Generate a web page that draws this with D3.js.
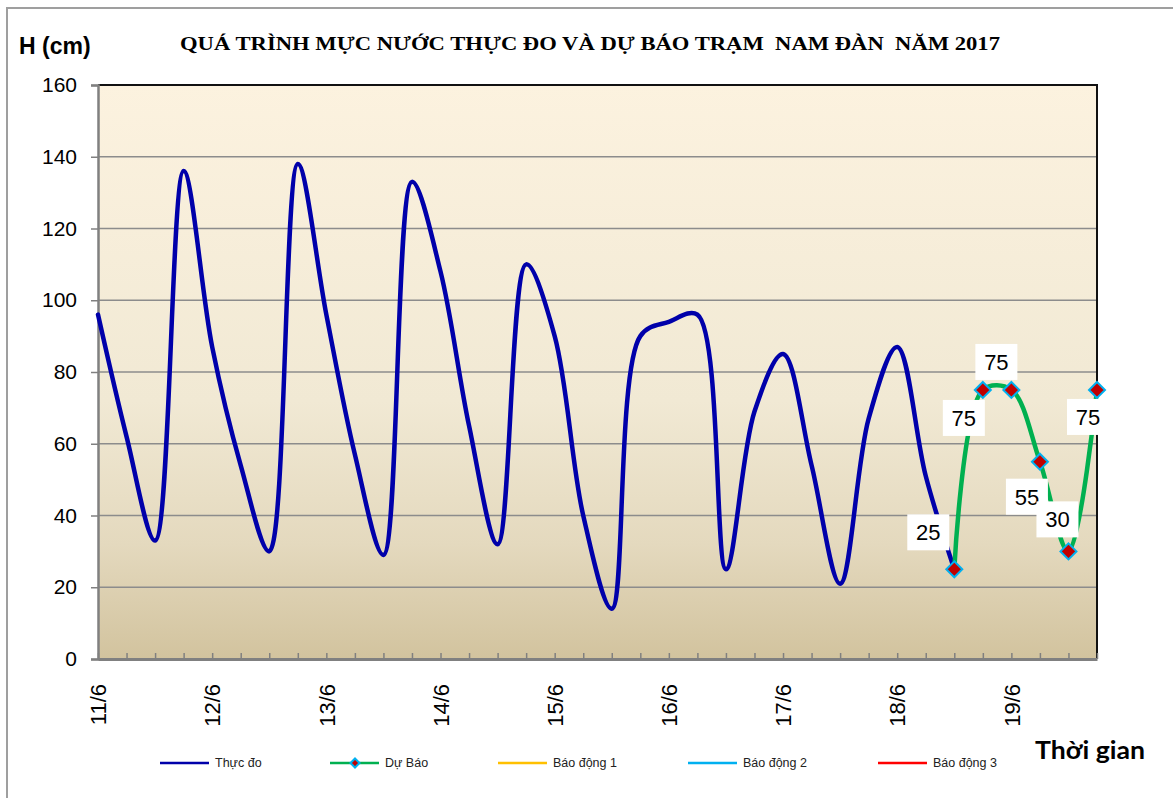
<!DOCTYPE html>
<html>
<head>
<meta charset="utf-8">
<script src="https://cdn.jsdelivr.net/npm/d3@7"></script>
<style>
  body { margin: 0; background: #fff; }
  svg { display: block; }
</style>
</head>
<body>
<div id="container"></div>
<script>
// day labels shown every 4 steps (6-hour steps)
var dayLabels = ["11/6", "12/6", "13/6", "14/6", "15/6", "16/6", "17/6", "18/6", "19/6"];
var stepsPerDay = 4;
var nSteps = 36;

// measured water level (cm), one value every 6 hours from 11/6
var observed = [96, 62, 33, 136, 87, 54, 30, 138, 96, 57, 29, 133, 108, 65, 32, 110,
                90, 40, 14, 90, 94, 96, 25, 69, 85, 54, 21, 67, 87, 51, 25];
// forecast, starting at step 30
var forecastStart = 30;
var forecast = [25, 75, 75, 55, 30, 75];

var yTicks = [0, 20, 40, 60, 80, 100, 120, 140, 160];

var legendItems = ["Thực đo", "Dự Báo", "Báo động 1", "Báo động 2", "Báo động 3"];
var legendColors = ["#0000AA", "#00B050", "#FFC000", "#00B0F0", "#FF0000"];

// where each forecast value label sits relative to its point
var labelOffsets = [[-26, -37], [-19, 28], [-15, -28], [-13, 35], [-11, -32], [-9, 27]];

var W = 1173, H = 798;
var margin = { top: 85, right: 76, bottom: 139, left: 98 };
var width = W - margin.left - margin.right;
var height = H - margin.top - margin.bottom;

var svg = d3.select("#container").append("svg")
    .attr("width", W).attr("height", H)
    .style("font-family", "'Liberation Sans', Arial, sans-serif");

// outer chart border
svg.append("rect")
    .attr("x", 7).attr("y", 8).attr("width", 1300).attr("height", 900)
    .attr("fill", "none").attr("stroke", "#9f9f9f").attr("stroke-width", 2);

var defs = svg.append("defs");
var grad = defs.append("linearGradient").attr("id", "bg")
    .attr("x1", 0).attr("y1", 0).attr("x2", 0).attr("y2", 1);
grad.append("stop").attr("offset", "0%").attr("stop-color", "#FCF2DF");
grad.append("stop").attr("offset", "55%").attr("stop-color", "#F1E9D4");
grad.append("stop").attr("offset", "80%").attr("stop-color", "#E4D9BE");
grad.append("stop").attr("offset", "100%").attr("stop-color", "#D2C39E");

var g = svg.append("g")
    .attr("transform", "translate(" + margin.left + "," + margin.top + ")");

var x = d3.scaleLinear().domain([0, nSteps - 1]).range([0, width]);
var y = d3.scaleLinear().domain([0, 160]).range([height, 0]);

g.append("rect")
    .attr("width", width).attr("height", height)
    .attr("fill", "url(#bg)");

// grid
g.selectAll("line.grid")
    .data(yTicks.slice(1, -1))
    .enter().append("line")
    .attr("class", "grid")
    .attr("x1", 0).attr("x2", width)
    .attr("y1", function (d) { return y(d); })
    .attr("y2", function (d) { return y(d); })
    .attr("stroke", "#8c8c8c").attr("stroke-width", 1.5);

// plot area border (top / right)
g.append("path")
    .attr("d", "M0,0H" + width + "V" + height)
    .attr("fill", "none").attr("stroke", "#111").attr("stroke-width", 2);

// y axis
var yAxis = g.append("g")
    .call(d3.axisLeft(y).tickValues(yTicks).tickSize(7).tickPadding(14));
yAxis.select(".domain").attr("stroke", "#808080").attr("stroke-width", 2.5);
yAxis.selectAll(".tick line").attr("stroke", "#808080").attr("stroke-width", 1.5);
yAxis.selectAll("text")
    .style("font-family", "'Liberation Sans', Arial, sans-serif")
    .style("font-size", "21px").attr("fill", "#000");

// x axis ticks (inside)
var xTickAxis = g.append("g")
    .attr("transform", "translate(0," + height + ")")
    .call(d3.axisTop(x).tickValues(d3.range(nSteps)).tickSize(6).tickFormat(""));
xTickAxis.select(".domain").remove();
xTickAxis.selectAll(".tick line").attr("stroke", "#808080").attr("stroke-width", 1.5);

var xAxis = g.append("g")
    .attr("transform", "translate(0," + height + ")")
    .call(d3.axisBottom(x)
        .tickValues(dayLabels.map(function (d, i) { return i * stepsPerDay; }))
        .tickSize(0)
        .tickFormat(function (d) { return dayLabels[d / stepsPerDay]; }));
xAxis.select(".domain").attr("stroke", "#808080").attr("stroke-width", 3);
xAxis.selectAll("text")
    .style("font-family", "'Liberation Sans', Arial, sans-serif")
    .style("font-size", "22px").attr("fill", "#000")
    .attr("transform", "translate(0,25) rotate(-90)")
    .attr("x", 0).attr("y", 0).attr("dy", "0.35em")
    .style("text-anchor", "end");

// observed line
var curve = d3.curveCatmullRom.alpha(0.5);
var line = d3.line()
    .x(function (d) { return x(d.i); })
    .y(function (d) { return y(d.v); })
    .curve(curve);

var obsPts = observed.map(function (v, i) { return { i: i, v: v }; });
var fcPts = forecast.map(function (v, k) { return { i: forecastStart + k, v: v, k: k }; });

g.append("path")
    .datum(obsPts)
    .attr("d", line)
    .attr("fill", "none").attr("stroke", "#0000AA").attr("stroke-width", 4.5)
    .attr("stroke-linejoin", "round").attr("stroke-linecap", "round");

g.append("path")
    .datum(fcPts)
    .attr("d", line)
    .attr("fill", "none").attr("stroke", "#00B050").attr("stroke-width", 4.5)
    .attr("stroke-linejoin", "round");

function diamond(s) {
    return "M0," + (-s) + "L" + s + ",0L0," + s + "L" + (-s) + ",0Z";
}

g.selectAll("path.marker")
    .data(fcPts)
    .enter().append("path")
    .attr("class", "marker")
    .attr("transform", function (d) { return "translate(" + x(d.i) + "," + y(d.v) + ")"; })
    .attr("d", diamond(8))
    .attr("fill", "#C00000").attr("stroke", "#00B0F0").attr("stroke-width", 2);

// data labels
var lbl = g.selectAll("g.lbl")
    .data(fcPts)
    .enter().append("g")
    .attr("class", "lbl")
    .attr("transform", function (d) {
        return "translate(" + (x(d.i) + labelOffsets[d.k][0]) + "," + (y(d.v) + labelOffsets[d.k][1]) + ")";
    });
lbl.append("rect")
    .attr("x", -21).attr("y", -18).attr("width", 42).attr("height", 36)
    .attr("fill", "#fff");
lbl.append("text")
    .attr("text-anchor", "middle").attr("dy", "0.36em")
    .style("font-size", "22px").attr("fill", "#000")
    .text(function (d) { return d.v; });

// titles
svg.append("text")
    .attr("x", 180).attr("y", 50)
    .attr("xml:space", "preserve")
    .style("white-space", "pre")
    .attr("textLength", 820).attr("lengthAdjust", "spacingAndGlyphs")
    .style("font-family", "'Liberation Serif', 'Times New Roman', serif")
    .style("font-weight", "bold").style("font-size", "19px")
    .text("QUÁ TRÌNH MỰC NƯỚC THỰC ĐO VÀ DỰ BÁO TRẠM  NAM ĐÀN  NĂM 2017");

svg.append("text")
    .attr("x", 19).attr("y", 54)
    .style("font-weight", "bold").style("font-size", "23px")
    .text("H (cm)");

svg.append("text")
    .attr("x", 1035).attr("y", 759)
    .attr("textLength", 110).attr("lengthAdjust", "spacingAndGlyphs")
    .style("font-family", "Lato, 'Open Sans', sans-serif")
    .style("font-weight", "bold").style("font-size", "24px")
    .text("Thời gian");

// legend
var legX = [160, 330, 498, 688, 878];
var leg = svg.selectAll("g.leg")
    .data(legendItems)
    .enter().append("g")
    .attr("class", "leg")
    .attr("transform", function (d, i) { return "translate(" + legX[i] + ",763)"; });
leg.append("line")
    .attr("x1", 0).attr("x2", 49)
    .attr("stroke", function (d, i) { return legendColors[i]; })
    .attr("stroke-width", 2.5);
leg.filter(function (d, i) { return i === 1; })
    .append("path")
    .attr("transform", "translate(25,0)")
    .attr("d", diamond(4.5))
    .attr("fill", "#C00000").attr("stroke", "#00B0F0").attr("stroke-width", 2);
leg.append("text")
    .attr("x", 55).attr("dy", "0.35em")
    .style("font-size", "12.5px").attr("fill", "#222")
    .text(function (d) { return d; });
</script>
</body>
</html>
